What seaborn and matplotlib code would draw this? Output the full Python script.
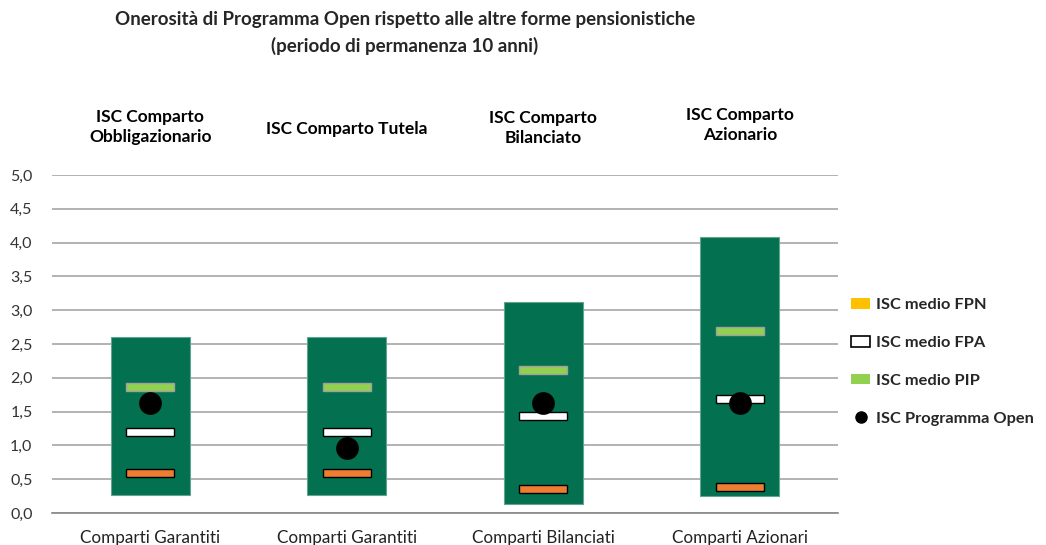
import matplotlib
matplotlib.use("Agg")
import matplotlib.pyplot as plt
import seaborn as sns
import pandas as pd
from matplotlib.patches import Patch
from matplotlib.lines import Line2D
from matplotlib.ticker import FuncFormatter

categories = ["Comparti Garantiti", "Comparti Garantiti ", "Comparti Bilanciati", "Comparti Azionari"]
top_labels = ["ISC Comparto\nObbligazionario", "ISC Comparto Tutela", "ISC Comparto\nBilanciato", "ISC Comparto\nAzionario"]
range_min = [0.27, 0.27, 0.13, 0.25]
range_max = [2.60, 2.60, 3.12, 4.08]
isc_fpn = [0.59, 0.59, 0.36, 0.39]
isc_fpa = [1.20, 1.20, 1.43, 1.69]
isc_pip = [1.87, 1.87, 2.12, 2.69]
isc_open = [1.62, 0.96, 1.62, 1.62]
yticks = [0, 0.5, 1.0, 1.5, 2.0, 2.5, 3.0, 3.5, 4.0, 4.5, 5.0]

sns.set_theme(style="white")
plt.rcParams['font.family'] = ['Lato', 'DejaVu Sans']

fig = plt.figure(figsize=(10.46, 5.45), dpi=100)
ax = fig.add_axes([52/1046, 32/545, 786/1046, 338/545])

df = pd.DataFrame({"cat": categories, "open": isc_open})
x = list(range(len(categories)))

ax.set_axisbelow(True)
ax.yaxis.grid(True, color="#A6A6A6", linewidth=1.2)

ax.bar(x, [t - b for t, b in zip(range_max, range_min)], bottom=range_min, width=0.4,
       color="#037050", edgecolor="#5FA58F", linewidth=0.8, zorder=2)
mh = 0.12
mw = 0.245
ax.bar(x, [mh]*4, bottom=[v - mh/2 for v in isc_fpn], width=mw,
       color="#ED7D31", edgecolor="black", linewidth=1.0, zorder=3)
ax.bar(x, [mh]*4, bottom=[v - mh/2 for v in isc_fpa], width=mw,
       color="white", edgecolor="black", linewidth=1.0, zorder=3)
ax.bar(x, [mh]*4, bottom=[v - mh/2 for v in isc_pip], width=mw,
       color="#92D050", edgecolor="#A0A0A0", linewidth=1.0, zorder=3)
sns.scatterplot(data=df, x="cat", y="open", ax=ax, color="black", s=230,
                edgecolor="black", zorder=4, legend=False)

ax.set_xlim(-0.5, 3.5)
ax.set_ylim(0, 5.0)
ax.set_yticks(yticks)
ax.yaxis.set_major_formatter(FuncFormatter(lambda v, p: f"{v:.1f}".replace(".", ",")))
ax.set_xticks(x)
ax.set_xticklabels([c.strip() for c in categories])
ax.tick_params(axis="y", labelsize=11.5, length=0, pad=14, colors="#333333")
ax.tick_params(axis="x", labelsize=12.3, length=0, pad=12, colors="#222222")
ax.set_xlabel("")
ax.set_ylabel("")
for s in ["top", "right", "left"]:
    ax.spines[s].set_visible(False)
ax.spines["bottom"].set_color("#888888")
ax.spines["bottom"].set_linewidth(1.2)

# category headers
header_y = [127, 129, 128, 125]
for xi, lab, yy in zip(x, top_labels, header_y):
    px = 52 + (xi + 0.5) * 786 / 4
    fig.text(px / 1046, 1 - yy / 545, lab, ha="center", va="center",
             fontsize=12.5, fontweight="bold", linespacing=1.35, color="black")

fig.text(405/1046, 1 - 19/545, "Onerosità di Programma Open rispetto alle altre forme pensionistiche",
         ha="center", va="center", fontsize=13.5, fontweight="bold")
fig.text(405/1046, 1 - 46/545, "(periodo di permanenza 10 anni)",
         ha="center", va="center", fontsize=13.5, fontweight="bold")

handles = [
    Patch(facecolor="#FFC000", edgecolor="none", label="ISC medio FPN"),
    Patch(facecolor="white", edgecolor="black", linewidth=1.2, label="ISC medio FPA"),
    Patch(facecolor="#92D050", edgecolor="none", label="ISC medio PIP"),
    Line2D([0], [0], marker="o", color="none", markerfacecolor="black",
           markeredgecolor="black", markersize=8, label="ISC Programma Open"),
]
leg = fig.legend(handles=handles, loc="center left", bbox_to_anchor=(836/1046, 1 - 362/545),
                 frameon=False, prop={"weight": "bold", "size": 11.8},
                 labelspacing=1.45, handlelength=1.2, handleheight=0.6, handletextpad=0.35)

fig.savefig("out.png", dpi=100)
